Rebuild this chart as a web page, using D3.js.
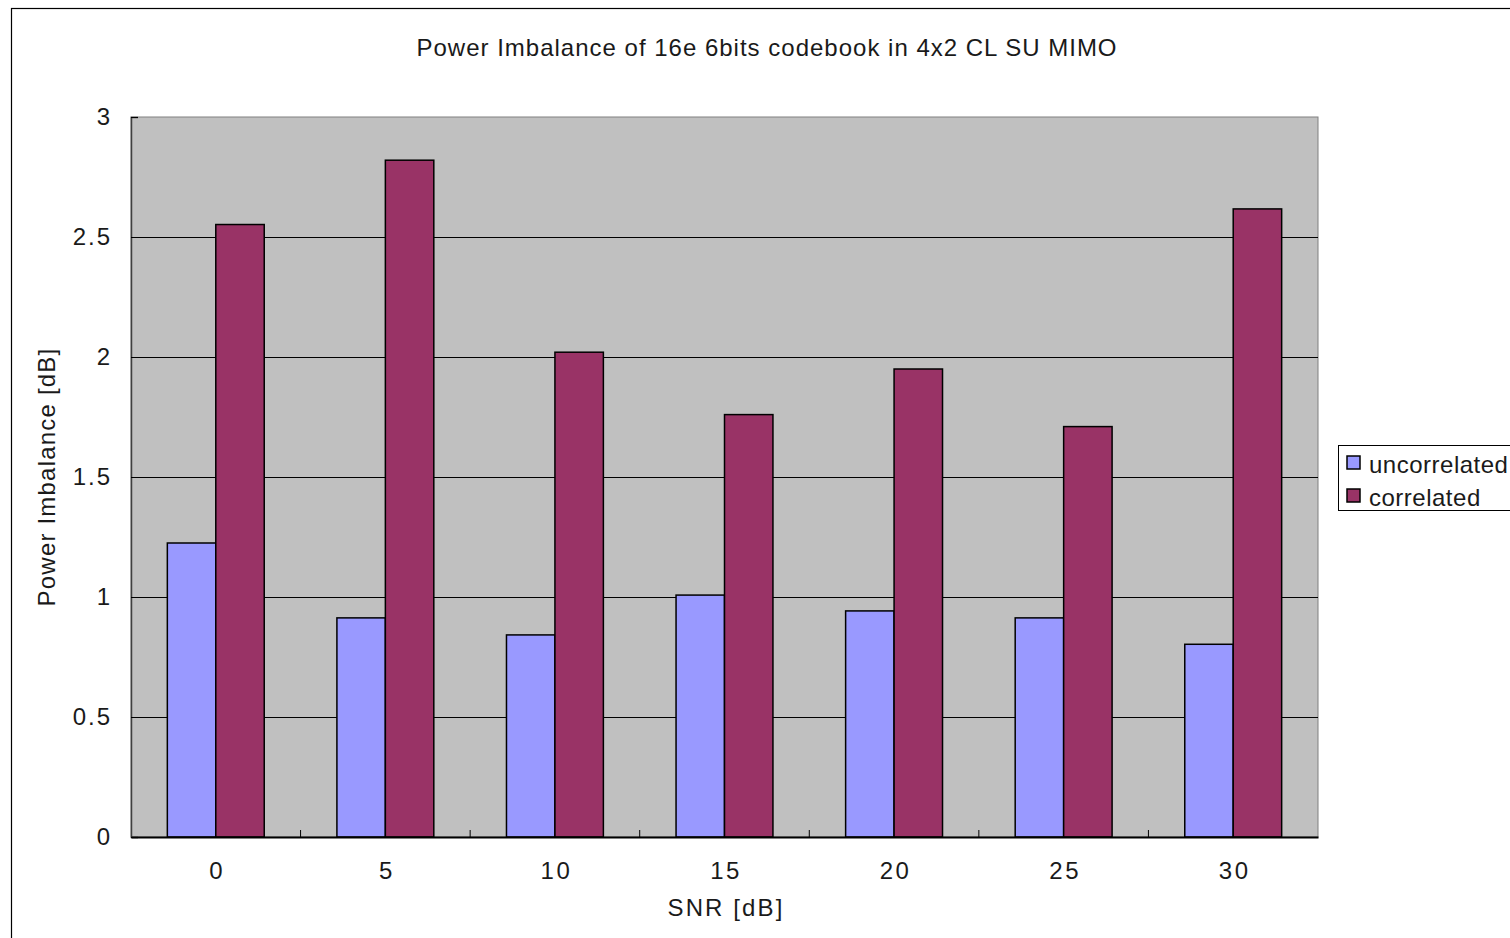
<!DOCTYPE html>
<html><head><meta charset="utf-8">
<script src="https://cdn.jsdelivr.net/npm/d3@7"></script>
<style>
html,body{margin:0;padding:0;background:#fff;}
svg text{font-family:"Liberation Sans",Arial,sans-serif;fill:#1a1a1a;}
</style></head>
<body>
<svg id="c" width="1510" height="938"></svg>
<script>
const categories = ["0","5","10","15","20","25","30"];
const seriesNames = ["uncorrelated","correlated"];
const uncorrelated = [1.225, 0.913, 0.842, 1.008, 0.942, 0.913, 0.803];
const correlated = [2.552, 2.82, 2.02, 1.76, 1.95, 1.71, 2.617];
const yTicks = [0, 0.5, 1, 1.5, 2, 2.5, 3];
const yTickLabels = ["0","0.5","1","1.5","2","2.5","3"];
const colors = ["#9999ff", "#993366"];
const titleText = "Power Imbalance of 16e 6bits codebook in 4x2 CL SU MIMO";
const xTitle = "SNR [dB]";
const yTitle = "Power Imbalance [dB]";

const FONT = "Liberation Sans, Arial, sans-serif";
const svg = d3.select("#c");
const L = 131, R = 1318, T = 117, B = 837;

// outer border
svg.append("rect").attr("x",11.5).attr("y",8.5).attr("width",1520).attr("height",960)
  .attr("fill","none").attr("stroke","#000").attr("stroke-width",1.2);

const x = d3.scaleBand().domain(categories).range([L,R]).paddingInner(0).paddingOuter(0);
const xs = d3.scaleBand().domain(seriesNames).range([0,x.bandwidth()]).paddingInner(0).paddingOuter(0.75);
const y = d3.scaleLinear().domain([0,3]).range([B,T]);

// plot background
svg.append("rect").attr("x",L).attr("y",T).attr("width",R-L).attr("height",B-T)
  .attr("fill","#c0c0c0").attr("stroke","#808080").attr("stroke-width",1);

// grid lines
svg.append("g").selectAll("line").data(yTicks.filter(d=>d>0&&d<3)).join("line")
  .attr("x1",L).attr("x2",R).attr("y1",d=>Math.round(y(d))+0.5).attr("y2",d=>Math.round(y(d))+0.5)
  .attr("stroke","#000").attr("stroke-width",1);

// bars
const data = categories.map((c,i)=>({c, vals:[uncorrelated[i], correlated[i]]}));
const g = svg.append("g");
data.forEach(d=>{
  seriesNames.forEach((s,j)=>{
    g.append("rect")
      .attr("x", x(d.c)+xs(s))
      .attr("y", y(d.vals[j]))
      .attr("width", xs.bandwidth())
      .attr("height", B - y(d.vals[j]))
      .attr("fill", colors[j]).attr("stroke","#000").attr("stroke-width",1.5);
  });
});

// y axis (inward ticks)
const yAxis = d3.axisLeft(y).tickValues(yTicks).tickFormat((d,i)=>yTickLabels[i]).tickSize(-7).tickPadding(19);
const ya = svg.append("g").attr("transform",`translate(${L},0)`).call(yAxis);
ya.attr("font-size",24).attr("font-family",FONT);
ya.select(".domain").attr("stroke","#404040").attr("stroke-width",1.5);
ya.selectAll(".tick line").attr("stroke","#000");
ya.selectAll("text").attr("fill","#1a1a1a").attr("letter-spacing","2px");

// x axis
const xAxis = d3.axisBottom(x).tickSize(0).tickPadding(25);
const xa = svg.append("g").attr("transform",`translate(0,${B})`).call(xAxis);
xa.attr("font-size",24).attr("font-family",FONT);
xa.select(".domain").attr("stroke","#000").attr("stroke-width",2);
xa.selectAll("text").attr("fill","#1a1a1a").attr("letter-spacing","2.5px").attr("dx","1.5");
// category boundary ticks (inward)
svg.append("g").selectAll("line").data(categories.slice(1)).join("line")
  .attr("x1",d=>x(d)).attr("x2",d=>x(d)).attr("y1",B).attr("y2",B-7)
  .attr("stroke","#000").attr("stroke-width",1);

// title
svg.append("text").attr("x",767).attr("y",56).attr("text-anchor","middle")
  .attr("font-size",24).attr("letter-spacing","1px").text(titleText);
svg.append("text").attr("x",726).attr("y",916).attr("text-anchor","middle")
  .attr("font-size",24).attr("letter-spacing","2.1px").text(xTitle);
svg.append("text").attr("transform","translate(55,477) rotate(-90)").attr("text-anchor","middle")
  .attr("font-size",24).attr("letter-spacing","1.2px").text(yTitle);

// legend
const lg = svg.append("g");
lg.append("rect").attr("x",1338.5).attr("y",445.5).attr("width",180).attr("height",65)
  .attr("fill","#fff").attr("stroke","#000").attr("stroke-width",1);
seriesNames.forEach((s,i)=>{
  lg.append("rect").attr("x",1347).attr("y",456+i*33).attr("width",13).attr("height",13)
    .attr("fill",colors[i]).attr("stroke","#000").attr("stroke-width",1.5);
  lg.append("text").attr("x",1369).attr("y",472.5+i*33).attr("font-size",24).attr("letter-spacing","0.5px").text(s);
});
</script>
</body></html>
